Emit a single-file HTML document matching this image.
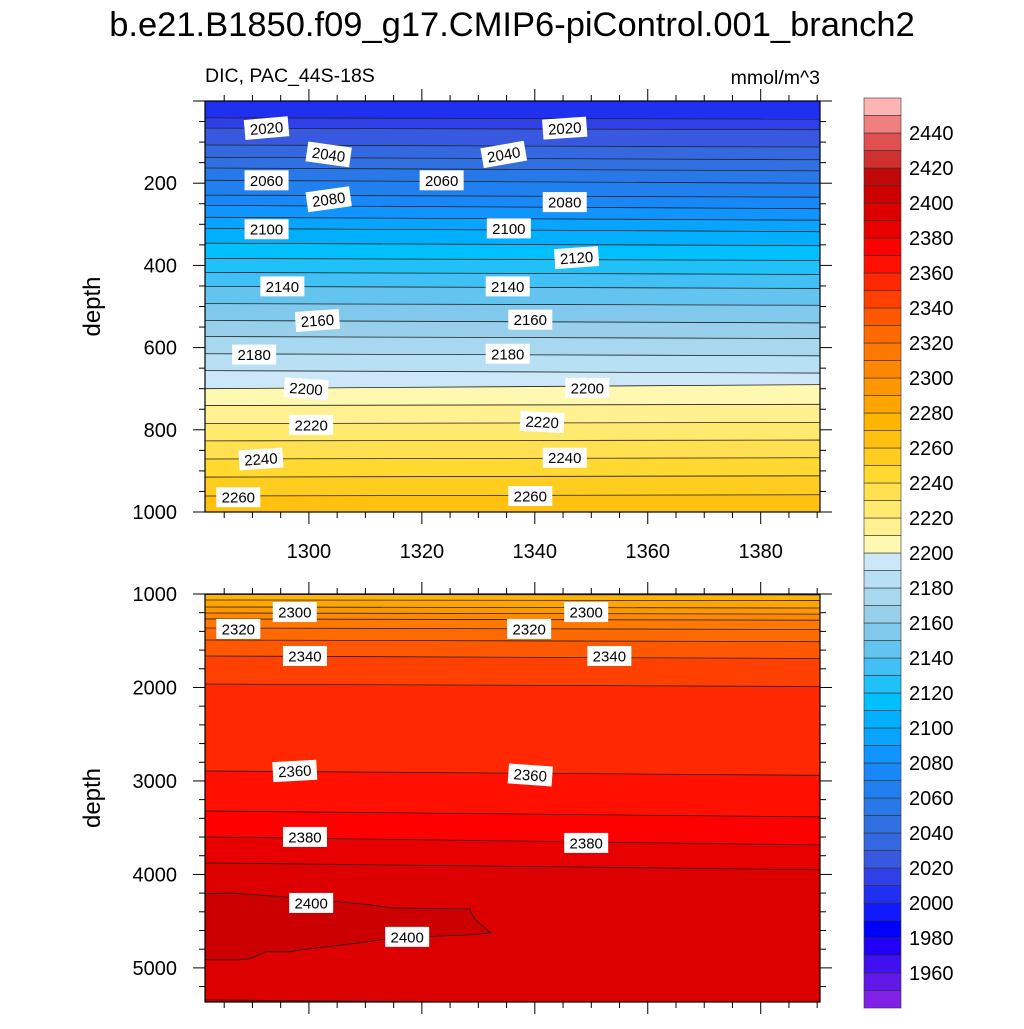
<!DOCTYPE html>
<html><head><meta charset="utf-8"><style>
body{margin:0;background:#fff;}
svg text{font-family:"Liberation Sans",sans-serif;}
</style></head><body>
<svg id="s" width="1024" height="1024" viewBox="0 0 1024 1024" xmlns="http://www.w3.org/2000/svg">
<text x="512" y="36" font-size="34.5" text-anchor="middle">b.e21.B1850.f09_g17.CMIP6-piControl.001_branch2</text>
<text x="205" y="82" font-size="19.5">DIC, PAC_44S-18S</text>
<text x="820" y="84" font-size="19.5" text-anchor="end">mmol/m^3</text>
<g id="top"></g><g id="bot"></g><g id="cb"></g>
</svg>
<script>
// colorbar levels / colors (boxes: <1950, 1950-60 ... 2440-50, >2450)
const cbLevels=[1950,1960,1970,1980,1990,2000,2010,2020,2030,2040,2050,2060,2070,2080,2090,2100,2110,2120,2130,2140,2150,2160,2170,2180,2190,2200,2210,2220,2230,2240,2250,2260,2270,2280,2290,2300,2310,2320,2330,2340,2350,2360,2370,2380,2390,2400,2410,2420,2430,2440,2450];
const cbColors=["#8020e8","#6018e8","#4010f0","#2000f8","#0000ff","#1018ff","#2030f0","#3040e8","#3858e0","#3468e0","#3070e0","#2878e8","#2080f0","#1888f8","#1094ff","#08a4ff","#00b0ff","#00c0ff","#20c0f8","#40c0f4","#64c4f0","#80c8ec","#98d0ec","#a8d8f0","#b8e0f4","#cce8f8","#fff8b0","#fff090","#ffea70","#ffe050","#ffd830","#ffcc20","#ffc010","#ffb400","#ffa400","#ff9800","#ff8800","#ff7800","#ff6a00","#ff5800","#ff4000","#ff2800","#ff1000","#ff0000","#e80000","#dc0000","#cc0000","#c00808","#d03030","#e05050","#f08080","#ffb4b4"];
const cbLabels=[1960,1980,2000,2020,2040,2060,2080,2100,2120,2140,2160,2180,2200,2220,2240,2260,2280,2300,2320,2340,2360,2380,2400,2420,2440];
// top panel contours (level, depth at left, depth at right)
const topLevels=[2010,2020,2030,2040,2050,2060,2070,2080,2090,2100,2110,2120,2130,2140,2150,2160,2170,2180,2190,2200,2210,2220,2230,2240,2250,2260];
const topDepthL=[41,66,107,137,163,193,229,254,283,310,346,383,417,451,493,534,573,615,656,700,741,785,827,871,915,961];
const topDepthR=[44,70,112,143,170,200,234,262,290,318,352,388,422,456,497,540,578,620,662,690,738,782,825,868,912,958];
// bottom panel contours
const botLevels=[2270,2280,2290,2300,2310,2320,2330,2340,2350,2360,2370,2380,2390,2400];
const botDepthL=[1005,1064,1139,1203,1267,1364,1492,1663,1963,2893,3321,3599,3877,5342];
const botDepthR=[1010,1070,1150,1215,1280,1380,1510,1690,1990,2940,3385,3685,3950,5400];
// 2400 wedge polygon (year, depth)
const wedgeYear=[1281.6,1286,1298,1311,1314.5,1328.6,1328.6,1329.5,1332.2,1328.6,1319.7,1312.6,1309.1,1298.5,1296.7,1292.3,1289.6,1287.8,1281.6];
const wedgeDepth=[4209,4198,4251,4326,4358,4369,4390,4486,4625,4647,4668,4700,4732,4807,4829,4829,4903,4914,4914];
// contour labels [text, year, depth, rot]
const topLabels=[[2020,1292.5,66,-5],[2040,1303.5,130,8],[2060,1292.5,193,0],[2080,1303.5,239,-8],[2100,1292.5,312,0],[2140,1295.3,451,0],[2160,1301.5,534,-4],[2180,1290.3,617,0],[2200,1299.5,700,4],[2220,1300.4,788,0],[2240,1291.5,871,-4],[2260,1287.5,964,0],[2020,1345.3,66,-4],[2040,1334.5,130,-10],[2060,1323.5,193,0],[2080,1345.3,246,0],[2100,1335.4,310,0],[2120,1347.4,381,-4],[2140,1335.2,451,0],[2160,1339.2,532,0],[2180,1335.2,615,0],[2200,1349.3,698,0],[2220,1341.3,781,3],[2240,1345.3,868,0],[2260,1339.2,961,0]];
const botLabels=[[2300,1297.5,1193,0],[2320,1287.5,1374,0],[2340,1299.3,1663,0],[2300,1349.1,1193,0],[2320,1339,1374,0],[2340,1353.2,1663,0],[2360,1297.5,2893,-3],[2360,1339.2,2936,4],[2380,1299.3,3599,0],[2380,1349.1,3663,0],[2400,1300.4,4305,0],[2400,1317.4,4668,0]];
const xTicks=[1300,1320,1340,1360,1380];

const NS="http://www.w3.org/2000/svg";
function mk(tag,attrs,parent){const e=document.createElementNS(NS,tag);for(const k in attrs)e.setAttribute(k,attrs[k]);parent.appendChild(e);return e;}
const X0=205,X1=820,Y0=1281.6,Y1=1390.5;
const xs=y=>X0+(y-Y0)/(Y1-Y0)*(X1-X0);
function colorFor(v){let i=0;while(i<cbLevels.length&&v>=cbLevels[i])i++;return cbColors[i];}

function panel(g,top,bot,d0,d1,levels,dl,dr,baseLevel,name){
  const ys=d=>top+(d-d0)/(d1-d0)*(bot-top);
  const c=mk('clipPath',{id:'clip'+name},g);mk('rect',{x:X0,y:top,width:X1-X0,height:bot-top},c);
  const fg=mk('g',{'clip-path':'url(#clip'+name+')'},g);
  let r=mk('rect',{x:X0,y:top,width:X1-X0,height:bot-top,fill:colorFor(baseLevel)},fg);
  
  
  for(let i=0;i<levels.length;i++){
    const yl=ys(dl[i]),yr=ys(dr[i]);
    const p=mk('polygon',{points:`${X0},${yl} ${X1},${yr} ${X1},${bot+5} ${X0},${bot+5}`,fill:colorFor(levels[i])},fg);
    
    
  }
  for(let i=0;i<levels.length;i++){
    const l=mk('line',{x1:X0,y1:ys(dl[i]),x2:X1,y2:ys(dr[i]),stroke:'#222','stroke-width':0.8},fg);
    
    
  }
  return {ys,fg};
}
function axes(g,top,bot,d0,d1,ys,yMajor,yMinor,xLabels,name,labels,skipZero){
  for(const L of labels){
    const x=xs(L[1]),y=ys(L[2]);
    const t=mk('g',{transform:`translate(${x},${y}) rotate(${L[3]})`},g);
    
    
    mk('rect',{x:-22,y:-10,width:44,height:20,fill:'#fff'},t);
    const tx=mk('text',{x:0,y:5.5,'font-size':15,'text-anchor':'middle'},t);tx.textContent=L[0];
  }
  const fr=mk('rect',{x:X0,y:top,width:X1-X0,height:bot-top,fill:'none',stroke:'#000','stroke-width':1.2},g);
  
  
  for(let yr=1285;yr<=1390;yr+=5){
    const x=xs(yr),maj=yr%20==0;const len=maj?12:6;
    mk('line',{x1:x,y1:top,x2:x,y2:top-len,stroke:'#000'},g);
    mk('line',{x1:x,y1:bot,x2:x,y2:bot+len,stroke:'#000'},g);
  }
  if(xLabels)for(const v of xTicks){const t=mk('text',{x:xs(v),y:bot+46,'font-size':20,'text-anchor':'middle'},g);t.textContent=v;
    
    }
  for(let d=Math.ceil(d0/yMinor)*yMinor;d<=d1;d+=yMinor){
    const y=ys(d),maj=d%yMajor==0,len=maj?12:6;
    mk('line',{x1:X0,y1:y,x2:X0-len,y2:y,stroke:'#000'},g);
    mk('line',{x1:X1,y1:y,x2:X1+len,y2:y,stroke:'#000'},g);
    if(maj&&!(skipZero&&d==0)){const t=mk('text',{x:X0-28,y:y+7,'font-size':20,'text-anchor':'end'},g);t.textContent=d;
      
      }
  }
  const yt=mk('text',{x:0,y:0,'font-size':24,'text-anchor':'middle',transform:`translate(100,${(top+bot)/2}) rotate(-90)`},g);
  yt.textContent='depth';
  
  
}
const gt=document.getElementById('top'),gb=document.getElementById('bot'),gc=document.getElementById('cb');



const P1=panel(gt,101,512,0,1000,topLevels,topDepthL,topDepthR,2000,'top');
axes(gt,101,512,0,1000,P1.ys,200,50,true,'top',topLabels,true);
const P2=panel(gb,594,1002,1000,5365,botLevels,botDepthL,botDepthR,2260,'bottom');
let pts=wedgeYear.map((y,i)=>xs(y)+','+P2.ys(wedgeDepth[i])).join(' ');
const w=mk('polygon',{points:pts,fill:colorFor(2400),stroke:'#222','stroke-width':0.8},P2.fg);


axes(gb,594,1002,1000,5365,P2.ys,1000,200,false,'bottom',botLabels,false);
// colorbar
const CB0=98,CBH=17.5,cbx=864,cbw=37;
const n=cbColors.length;
for(let i=0;i<n;i++){
  const y=CB0+(n-1-i)*CBH;
  const r=mk('rect',{x:cbx,y:y,width:cbw,height:CBH,fill:cbColors[i],stroke:'#333','stroke-width':0.6},gc);
  
  
}
for(const v of cbLabels){
  const i=cbLevels.indexOf(v);const y=CB0+(n-1-i)*CBH;
  const t=mk('text',{x:cbx+cbw+8,y:y+7,'font-size':20},gc);t.textContent=v;
  
  
}
</script>
</body></html>
